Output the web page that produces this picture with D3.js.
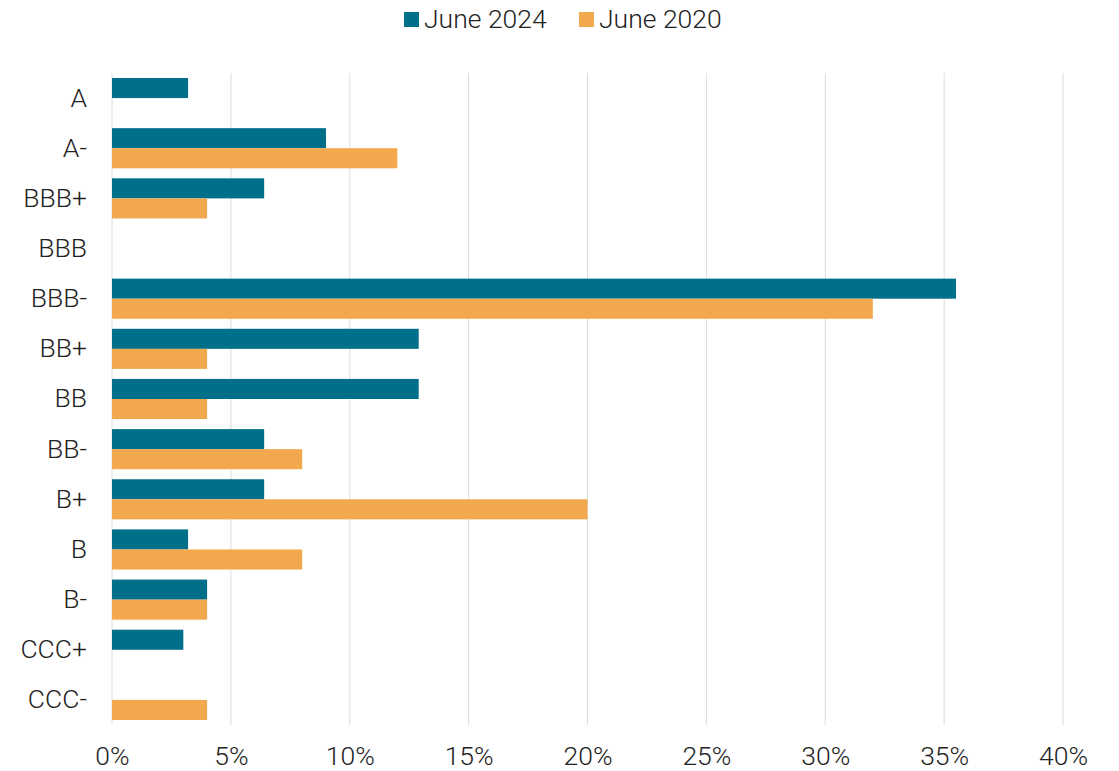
<!DOCTYPE html>
<html>
<head>
<meta charset="utf-8">
<script src="https://cdn.jsdelivr.net/npm/d3@7"></script>
<style>
	body { margin: 0; background: #fff; }
	svg text { font-family: Roboto, "DejaVu Sans", sans-serif; font-weight: 300; fill: #222; }
</style>
</head>
<body>
<svg id="chart" width="1119" height="771"></svg>
<script>
/* global d3 */

// ratings, top to bottom
let ratings = ['A', 'A-', 'BBB+', 'BBB', 'BBB-', 'BB+', 'BB', 'BB-', 'B+', 'B', 'B-', 'CCC+', 'CCC-'];

// share of issuers, percent (0 = no bar)
let june2024 = [3.2, 9.0, 6.4, 0, 35.5, 12.9, 12.9, 6.4, 6.4, 3.2, 4.0, 3.0, 0];
let june2020 = [0, 12.0, 4.0, 0, 32.0, 4.0, 4.0, 8.0, 20.0, 8.0, 4.0, 0, 4.0];

let seriesNames = ['June 2024', 'June 2020'];
let xTicks = [0, 5, 10, 15, 20, 25, 30, 35, 40];

let colors = ['#006F8A', '#F2A84C'];

let fontSize = 26.5;

let svg = d3.select('#chart'),
	margin = {top: 73, right: 56, bottom: 46, left: 112},
	width = 1119 - margin.left - margin.right,
	height = 771 - margin.top - margin.bottom,
	g = svg.append('g').attr('transform', 'translate(' + margin.left + ',' + margin.top + ')');

let x = d3.scaleLinear().domain([0, 40]).range([0, width]);

let y = d3.scaleBand().domain(ratings).range([0, height]).paddingInner(0.2).paddingOuter(0.1);

let ySub = d3.scaleBand().domain(seriesNames).range([0, y.bandwidth()]);

// gridlines
g.append('g')
	.selectAll('line')
	.data(xTicks)
	.enter().append('line')
		.attr('x1', function(d) { return x(d); })
		.attr('x2', function(d) { return x(d); })
		.attr('y1', 0)
		.attr('y2', height)
		.attr('stroke', '#dcdcdc')
		.attr('stroke-width', 1);

// bars
let rows = ratings.map(function(r, i) {
	return {rating: r, values: [june2024[i], june2020[i]]};
});

let row = g.selectAll('.row')
	.data(rows)
	.enter().append('g')
		.attr('class', 'row')
		.attr('transform', function(d) { return 'translate(0,' + y(d.rating) + ')'; });

row.selectAll('rect')
	.data(function(d) {
		return d.values.map(function(v, i) { return {name: seriesNames[i], value: v, idx: i}; })
			.filter(function(e) { return e.value > 0; });
	})
	.enter().append('rect')
		.attr('x', x(0))
		.attr('y', function(d) { return ySub(d.name); })
		.attr('width', function(d) { return x(d.value) - x(0); })
		.attr('height', ySub.bandwidth())
		.attr('fill', function(d) { return colors[d.idx]; });

// y axis labels
let yAxis = g.append('g')
	.call(d3.axisLeft(y).tickSize(0).tickPadding(25));
yAxis.select('.domain').remove();
yAxis.selectAll('text')
	.attr('font-size', fontSize)
	.style('font-family', null);

// x axis labels
let xAxis = g.append('g')
	.attr('transform', 'translate(0,' + height + ')')
	.call(d3.axisBottom(x).tickValues(xTicks).tickSize(0).tickPadding(21)
		.tickFormat(function(d) { return d + '%'; }));
xAxis.select('.domain').remove();
xAxis.selectAll('text')
	.attr('font-size', fontSize)
	.style('font-family', null);

// legend
let legend = svg.append('g').attr('transform', 'translate(404,12)');
let legendX = [0, 175];

seriesNames.forEach(function(name, i) {
	let item = legend.append('g').attr('transform', 'translate(' + legendX[i] + ',0)');
	item.append('rect')
		.attr('width', 15)
		.attr('height', 15)
		.attr('fill', colors[i]);
	item.append('text')
		.attr('x', 20)
		.attr('y', 16)
		.attr('font-size', fontSize)
		.text(name);
});
</script>
</body>
</html>
